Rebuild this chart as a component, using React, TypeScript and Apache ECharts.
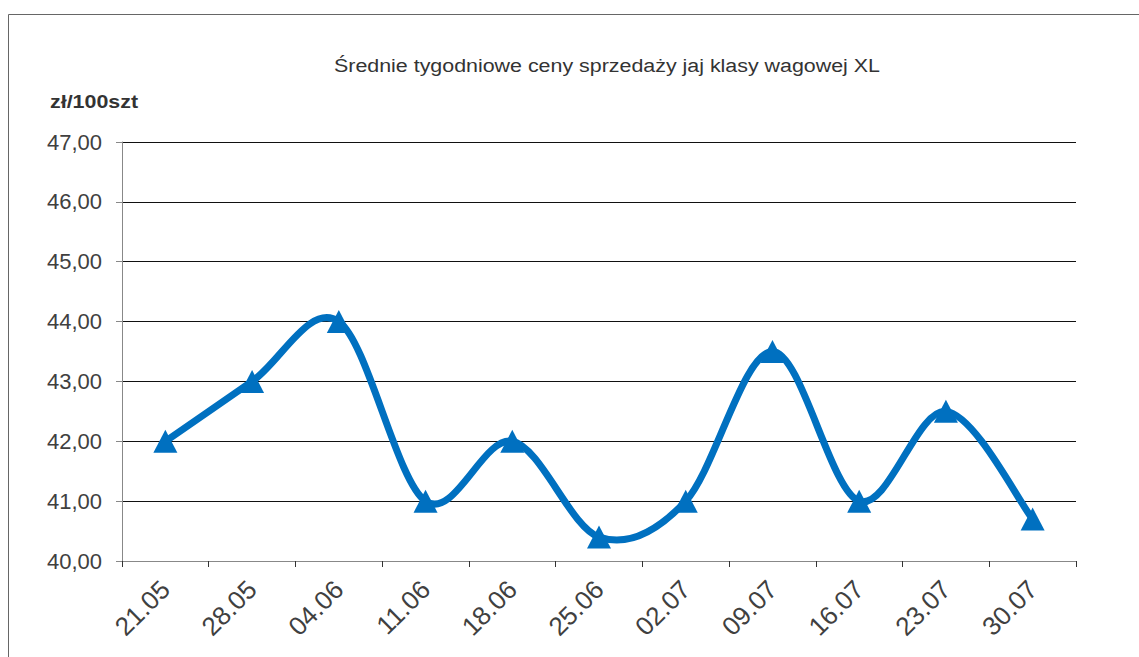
import React, { useEffect, useRef } from "react";
import * as echarts from "echarts";

const categories = ["21.05", "28.05", "04.06", "11.06", "18.06", "25.06", "02.07", "09.07", "16.07", "23.07", "30.07"];
const prices = [42.0, 43.0, 44.0, 41.0, 42.0, 40.4, 41.0, 43.5, 41.0, 42.5, 40.7];
const titleText = "Średnie tygodniowe ceny sprzedaży jaj klasy wagowej XL";
const unitText = "zł/100szt";

const LINE_COLOR = "#0070C0";

export default function App() {
  const ref = useRef<HTMLDivElement>(null);
  useEffect(() => {
    if (!ref.current) return;
    const chart = echarts.init(ref.current, null, { renderer: "svg" });
    const font = "'Liberation Sans', Arial, sans-serif";
    const n = prices.length;
    chart.setOption({
      animation: false,
      backgroundColor: "#fff",
      graphic: [
        {
          type: "rect",
          shape: { x: 8.5, y: 14.5, width: 1140, height: 660 },
          style: { fill: "none", stroke: "#666", lineWidth: 1 },
          silent: true,
        },
        {
          type: "text",
          x: 334,
          y: 57,
          scaleX: 1.19,
          style: { text: titleText, fontFamily: font, fontSize: 18, fill: "#333" },
        },
        {
          type: "text",
          x: 50,
          y: 93,
          scaleX: 1.19,
          style: { text: unitText, fontFamily: font, fontSize: 18, fontWeight: "bold", fill: "#333" },
        },
      ],
      grid: { left: 122, right: 63, top: 142, bottom: 96, containLabel: false },
      xAxis: {
        type: "category",
        data: categories,
        boundaryGap: true,
        axisLine: { lineStyle: { color: "#888", width: 1 } },
        axisTick: { show: true, length: 6, lineStyle: { color: "#333" }, alignWithLabel: false },
        axisLabel: { rotate: 45, fontFamily: font, fontSize: 26, color: "#404040", margin: 24, interval: 0 },
      },
      yAxis: {
        type: "value",
        min: 40,
        max: 47,
        interval: 1,
        axisLine: { show: true, lineStyle: { color: "#888", width: 1 } },
        axisTick: { show: true, length: 6, lineStyle: { color: "#888" } },
        splitLine: { show: true, lineStyle: { color: "#111", width: 1 } },
        axisLabel: {
          fontFamily: font,
          fontSize: 22,
          color: "#404040",
          margin: 20,
          formatter: (v: number) => v.toFixed(2).replace(".", ","),
        },
      },
      series: [
        {
          type: "custom",
          data: prices.map((v, i) => [i, v]),
          z: 2,
          silent: true,
          renderItem: (params: any, api: any) => {
            const i = params.dataIndex;
            if (i >= n - 1) return null;
            const P = (k: number) => {
              const kk = Math.max(0, Math.min(n - 1, k));
              return api.coord([kk, prices[kk]]);
            };
            const p0 = P(i - 1);
            const p1 = P(i);
            const p2 = P(i + 1);
            const p3 = P(i + 2);
            const cp1x = p1[0] + (p2[0] - p0[0]) / 6;
            const cp1y = p1[1] + (p2[1] - p0[1]) / 6;
            const cp2x = p2[0] - (p3[0] - p1[0]) / 6;
            const cp2y = p2[1] - (p3[1] - p1[1]) / 6;
            return {
              type: "bezierCurve",
              shape: {
                x1: p1[0], y1: p1[1],
                x2: p2[0], y2: p2[1],
                cpx1: cp1x, cpy1: cp1y,
                cpx2: cp2x, cpy2: cp2y,
              },
              style: { stroke: LINE_COLOR, lineWidth: 7, fill: null, lineCap: "round" },
            };
          },
        },
        {
          type: "line",
          data: prices,
          symbol: "triangle",
          symbolSize: [24, 23],
          lineStyle: { width: 0, opacity: 0 },
          itemStyle: { color: LINE_COLOR },
          z: 3,
        },
      ],
    });
    return () => chart.dispose();
  }, []);
  return <div ref={ref} style={{ position: "fixed", left: 0, top: 0, width: 1139, height: 657 }} />;
}
